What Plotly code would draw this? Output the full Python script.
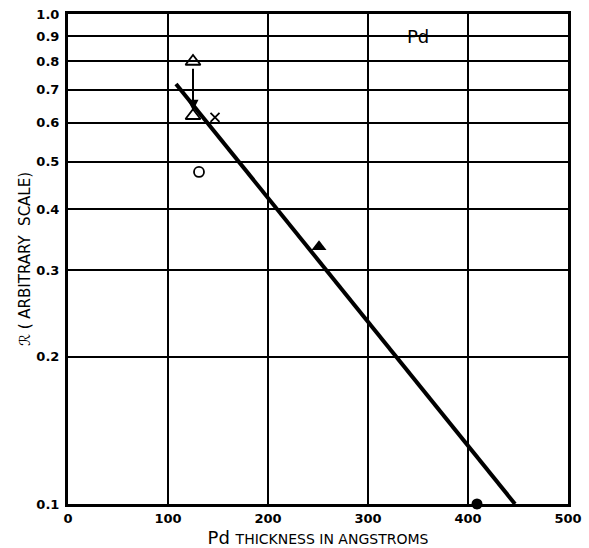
import math
import plotly.graph_objects as go

# Data
fit_x = [108, 447]
fit_y = [0.72, 0.10]

open_tri_x = [125, 125]
open_tri_y = [0.80, 0.62]
cross_x = [147]
cross_y = [0.615]
open_circ_x = [131]
open_circ_y = [0.476]
fill_tri_x = [251]
fill_tri_y = [0.335]
fill_circ_x = [409]
fill_circ_y = [0.10]

x_ticks = [0, 100, 200, 300, 400, 500]
y_ticks = [0.1, 0.2, 0.3, 0.4, 0.5, 0.6, 0.7, 0.8, 0.9, 1.0]
y_ticktext = ["0.1", "0.2", "0.3", "0.4", "0.5", "0.6", "0.7", "0.8", "0.9", "1.0"]

FONT = "DejaVu Sans"

fig = go.Figure()
fig.add_trace(go.Scatter(x=fit_x, y=fit_y, mode="lines",
                         line=dict(color="black", width=4), hoverinfo="skip"))
fig.add_trace(go.Scatter(x=open_tri_x, y=open_tri_y, mode="markers",
                         marker=dict(symbol="triangle-up-open", size=13, color="black",
                                     line=dict(width=1.8))))
fig.add_trace(go.Scatter(x=cross_x, y=cross_y, mode="markers",
                         marker=dict(symbol="x-thin-open", size=9, color="black",
                                     line=dict(width=1.8, color="black"))))
fig.add_trace(go.Scatter(x=open_circ_x, y=open_circ_y, mode="markers",
                         marker=dict(symbol="circle-open", size=10, color="black",
                                     line=dict(width=1.8))))
fig.add_trace(go.Scatter(x=fill_tri_x, y=fill_tri_y, mode="markers",
                         marker=dict(symbol="triangle-up", size=13, color="black")))
fig.add_trace(go.Scatter(x=fill_circ_x, y=fill_circ_y, mode="markers", cliponaxis=False,
                         marker=dict(symbol="circle", size=11, color="black")))

# arrow between the two open triangles
fig.add_annotation(x=open_tri_x[1], y=math.log10(open_tri_y[1]) + 0.01,
                   ax=open_tri_x[0], ay=math.log10(open_tri_y[0]) - 0.012,
                   xref="x", yref="y", axref="x", ayref="y",
                   showarrow=True, arrowhead=2, arrowsize=1.1, arrowwidth=2,
                   arrowcolor="black", text="")

# "Pd" label cell (covers the 0.9 grid line between 300 and 400)
fig.add_shape(type="rect", x0=302, x1=398, y0=math.log10(0.82), y1=math.log10(0.985),
              xref="x", yref="y", fillcolor="white", line=dict(width=0), layer="between")
fig.add_annotation(x=350, y=math.log10(0.9), xref="x", yref="y", text="Pd",
                   showarrow=False, font=dict(family=FONT, size=18, color="black"))

fig.update_xaxes(range=[0, 500], tickvals=x_ticks, ticks="", showgrid=True,
                 gridcolor="black", gridwidth=1.5, zeroline=False, automargin=False,
                 showline=True, linecolor="black", linewidth=3, mirror=True,
                 ticklabelstandoff=0,
                 tickfont=dict(family=FONT, size=13, color="black", weight="bold"),
                 title=dict(text="Pd <span style='font-size:14px'>THICKNESS IN ANGSTROMS</span>",
                            font=dict(family=FONT, size=18, color="black"), standoff=7))
fig.update_yaxes(type="log", range=[-1, 0], tickvals=y_ticks, ticktext=y_ticktext,
                 ticks="", showgrid=True, gridcolor="black", gridwidth=1.5, automargin=False,
                 showline=True, linecolor="black", linewidth=3, mirror=True,
                 ticklabelstandoff=3,
                 tickfont=dict(family=FONT, size=13, color="black", weight="bold"),
                 title=dict(text="\u211b ( ARBITRARY  SCALE)",
                            font=dict(family=FONT, size=15, color="black"), standoff=3))

fig.update_layout(width=589, height=548, showlegend=False,
                  plot_bgcolor="white", paper_bgcolor="white",
                  margin=dict(l=68, r=21, t=14, b=44))

fig.write_html("out.html", config={"displayModeBar": False},
               post_script="document.body.style.margin='0';")
